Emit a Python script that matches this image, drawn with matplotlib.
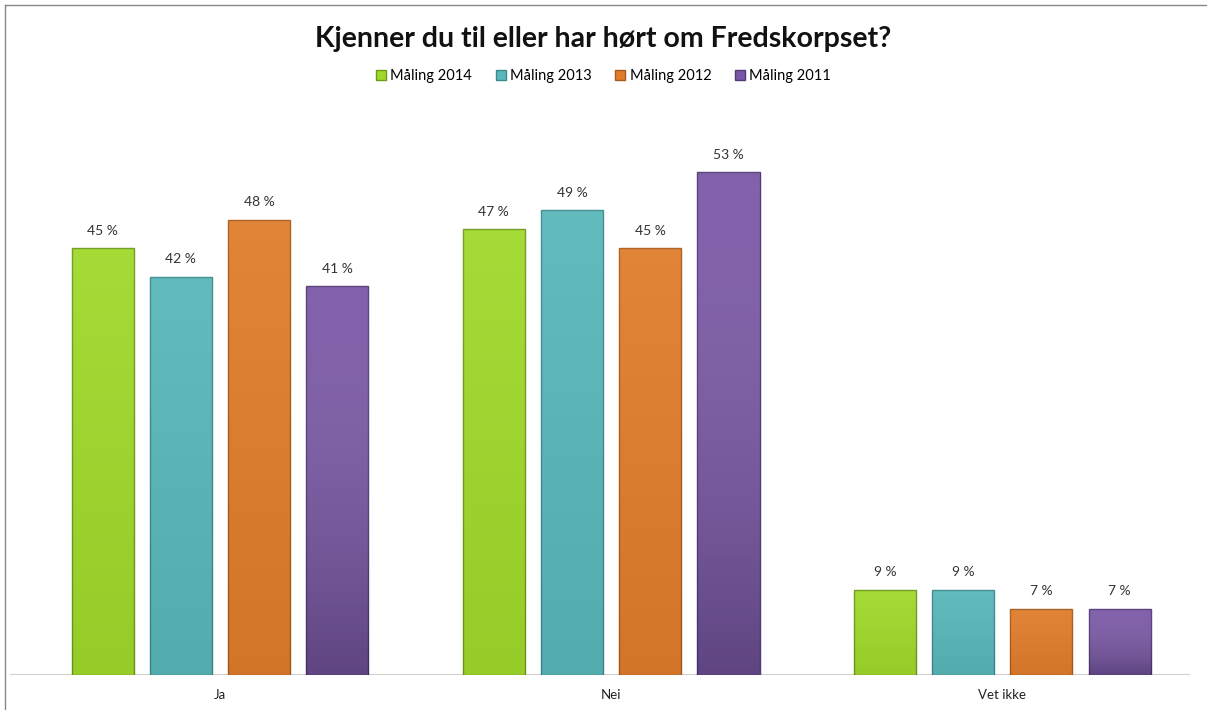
import matplotlib
matplotlib.use("Agg")
import matplotlib.pyplot as plt
import numpy as np
from matplotlib.lines import Line2D

categories = ["Ja", "Nei", "Vet ikke"]
series_names = ["Måling 2014", "Måling 2013", "Måling 2012", "Måling 2011"]
v2014 = [45, 47, 9]
v2013 = [42, 49, 9]
v2012 = [48, 45, 7]
v2011 = [41, 53, 7]
values = [v2014, v2013, v2012, v2011]
colors = ["#9FD92B", "#58B7B9", "#E07D2C", "#7A58A6"]
edges = ["#6E9A1A", "#3C8A8C", "#A85A1C", "#533A78"]

plt.rcParams['font.family'] = ['Lato', 'DejaVu Sans']

fig = plt.figure(figsize=(12.07, 7.10), dpi=100)
ax = fig.add_axes([10/1207, 35/710, 1180/1207, 569/710])

x = np.arange(len(categories))
width = 0.159
step = 0.2
for i, (vals, c, ec) in enumerate(zip(values, colors, edges)):
    pos = x + (i - 1.5) * step
    bars = ax.bar(pos, vals, width, color=c, edgecolor=ec, linewidth=1.0,
                  label=series_names[i], zorder=3)
    alpha_bot = 0.22 if i == 3 else 0.06
    for b, v in zip(bars, vals):
        x0 = b.get_x(); w = b.get_width(); h = b.get_height()
        grad = np.linspace(0, 1, 100).reshape(-1, 1)
        im = ax.imshow(grad, extent=[x0, x0 + w, 0, h], origin='upper',
                       cmap=matplotlib.colors.LinearSegmentedColormap.from_list(
                           'g', [(1, 1, 1, 0.06), (0, 0, 0, alpha_bot)]),
                       aspect='auto', zorder=4)
        im.set_clip_path(b)
        ax.text(b.get_x() + w / 2, v + 1.2, f"{v} %", ha='center', va='bottom',
                fontsize=10, color='#333333', zorder=5)

ax.set_xlim(-0.537, 2.48)
ax.set_ylim(0, 60)
ax.axhline(0, color='#D0D0D0', linewidth=1.5, zorder=2)
for s in ax.spines.values():
    s.set_visible(False)
ax.set_yticks([])
ax.set_xticks(x)
ax.set_xticklabels(categories, fontsize=9.5, color='#222222')
ax.tick_params(axis='x', length=0, pad=10)

fig.text(0.5, 0.945, "Kjenner du til eller har hørt om Fredskorpset?",
         ha='center', va='center', fontsize=20.5, fontweight='bold', color='#111111')

handles = [plt.Rectangle((0, 0), 1, 1, facecolor=c, edgecolor=ec) for c, ec in zip(colors, edges)]
fig.legend(handles, series_names, loc='center', bbox_to_anchor=(0.5, 0.893), ncol=4,
           frameon=False, fontsize=10.5, handlelength=0.7, handleheight=0.7,
           handletextpad=0.3, columnspacing=1.6)

fig.add_artist(Line2D([5/1207, 5/1207], [0, 1 - 5/710], color='#888888', linewidth=1))
fig.add_artist(Line2D([5/1207, 1], [1 - 5/710, 1 - 5/710], color='#888888', linewidth=1))

fig.savefig("out.png", dpi=100, facecolor='white')
